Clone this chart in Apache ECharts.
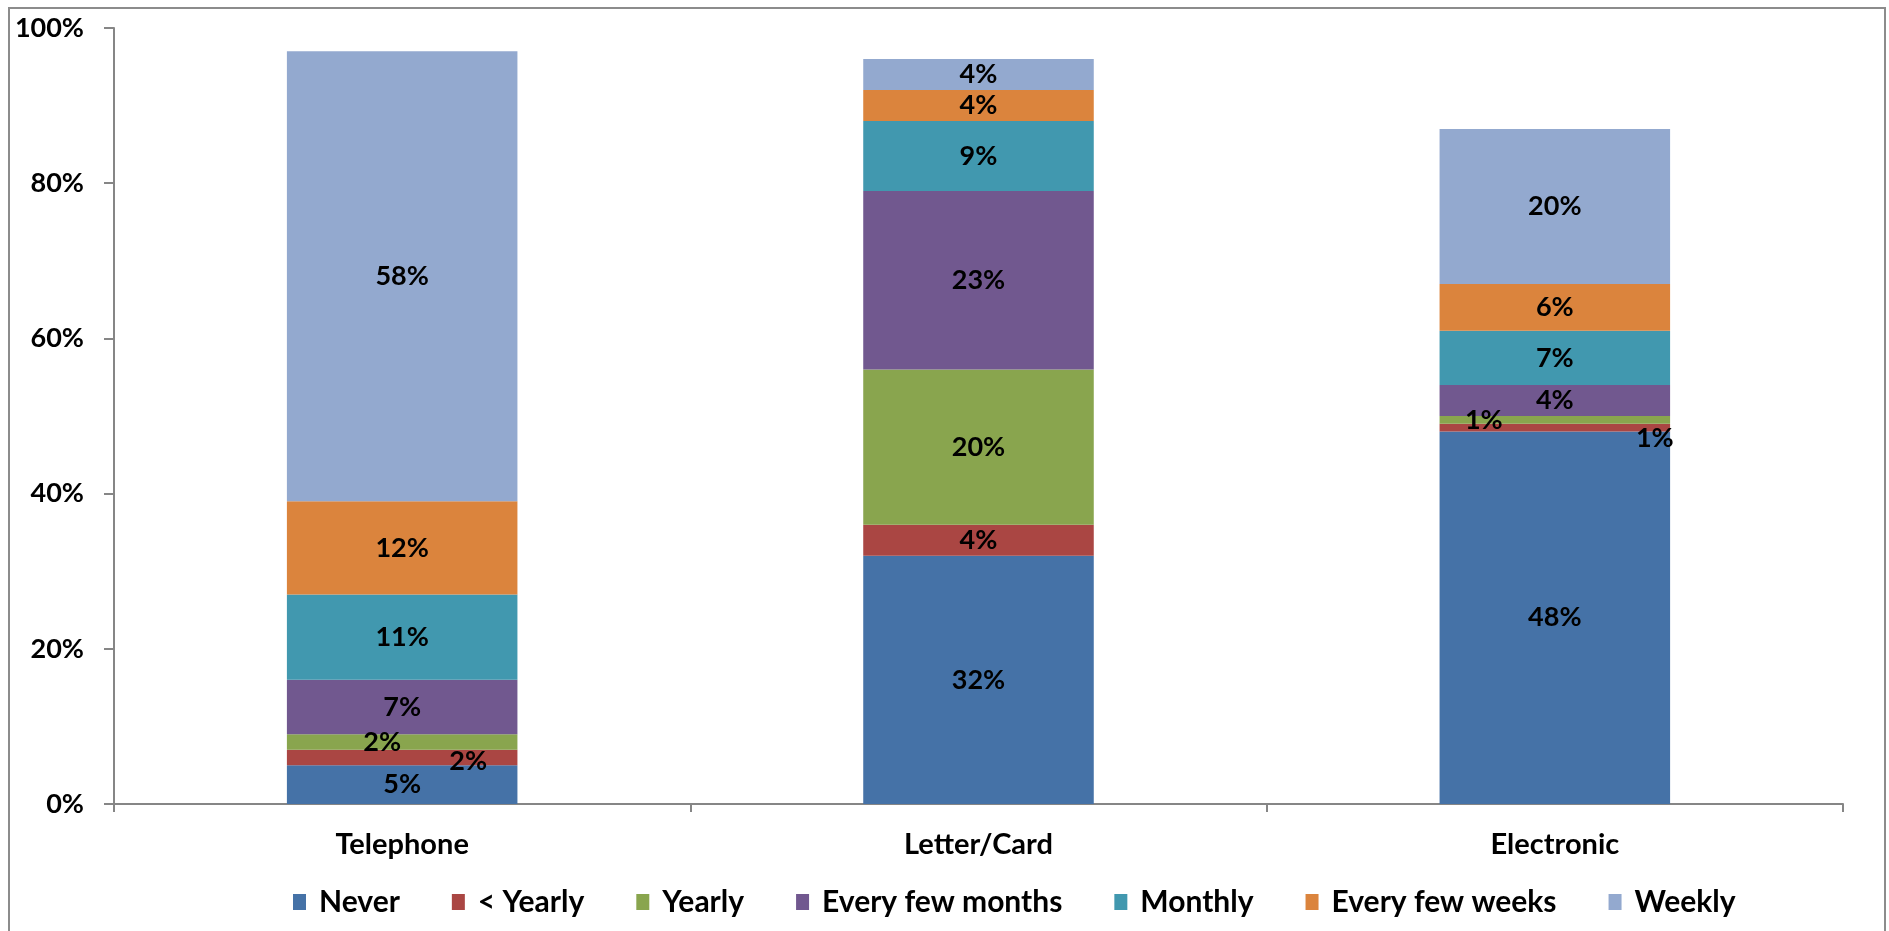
<!DOCTYPE html>
<html lang="en">

<head>
    <meta charset="UTF-8">
    <title>Contact frequency</title>
    <script src="https://cdn.jsdelivr.net/npm/echarts@6/dist/echarts.min.js"></script>
    <style>
        html, body { margin: 0; padding: 0; background: #fff; }
    </style>
</head>

<body>
    <div id="main" style="width: 1889px; height: 931px;"></div>
    <script type="text/javascript">
        var categories = ['Telephone', 'Letter/Card', 'Electronic'];
        var seriesNames = ['Never', '< Yearly', 'Yearly', 'Every few months', 'Monthly', 'Every few weeks', 'Weekly'];
        var never = [5, 32, 48];
        var lessYearly = [2, 4, 1];
        var yearly = [2, 20, 1];
        var everyFewMonths = [7, 23, 4];
        var monthly = [11, 9, 7];
        var everyFewWeeks = [12, 4, 6];
        var weekly = [58, 4, 20];
        var yTicks = [0, 20, 40, 60, 80, 100];

        var values = [never, lessYearly, yearly, everyFewMonths, monthly, everyFewWeeks, weekly];
        var colors = ['#4572A7', '#AA4643', '#89A54E', '#71588F', '#4198AF', '#DB843D', '#93A9CF'];

        // small segments: labels nudged aside like the original
        var labelShift = {
            '1-0': [66, 4],
            '2-0': [-20, 0],
            '1-2': [100, 11],
            '2-2': [-71, 0]
        };

        var font = 'Lato';
        var myChart = echarts.init(document.getElementById('main'));

        var series = seriesNames.map(function (name, s) {
            return {
                name: name,
                type: 'bar',
                stack: 'total',
                barWidth: '40%',
                itemStyle: { color: colors[s] },
                label: {
                    show: true,
                    position: 'inside',
                    color: '#000',
                    fontFamily: font,
                    fontWeight: 'bold',
                    fontSize: 27,
                    formatter: '{c}%'
                },
                data: values[s].map(function (v, c) {
                    var key = s + '-' + c;
                    if (labelShift[key]) {
                        return { value: v, label: { offset: labelShift[key] } };
                    }
                    return v;
                })
            };
        });

        var option = {
            animation: false,
            textStyle: { fontFamily: font },
            graphic: [{
                type: 'rect',
                shape: { x: 9, y: 8, width: 1876, height: 940 },
                style: { fill: 'none', stroke: '#8c8c8c', lineWidth: 2 },
                silent: true
            }],
            legend: {
                data: seriesNames,
                left: 288,
                top: 882,
                itemWidth: 13,
                itemHeight: 16,
                itemGap: 52,
                icon: 'rect',
                textStyle: {
                    color: '#000',
                    fontFamily: font,
                    fontWeight: 'bold',
                    fontSize: 30,
                    padding: [0, 0, 0, 8]
                }
            },
            grid: {
                left: 114,
                right: 46,
                top: 28,
                bottom: 127
            },
            xAxis: {
                type: 'category',
                data: categories,
                axisLine: { lineStyle: { color: '#868686', width: 2 } },
                axisTick: { show: true, length: 8, lineStyle: { color: '#868686', width: 2 } },
                axisLabel: {
                    color: '#000',
                    fontFamily: font,
                    fontWeight: 'bold',
                    fontSize: 29,
                    margin: 26
                }
            },
            yAxis: {
                type: 'value',
                min: yTicks[0],
                max: yTicks[yTicks.length - 1],
                interval: 20,
                splitLine: { show: false },
                axisLine: { show: true, lineStyle: { color: '#868686', width: 2 } },
                axisTick: { show: true, length: 10, lineStyle: { color: '#868686', width: 2 } },
                axisLabel: {
                    color: '#000',
                    fontFamily: font,
                    fontWeight: 'bold',
                    fontSize: 27,
                    margin: 30,
                    formatter: '{value}%'
                }
            },
            series: series
        };

        myChart.setOption(option);
    </script>
</body>

</html>
